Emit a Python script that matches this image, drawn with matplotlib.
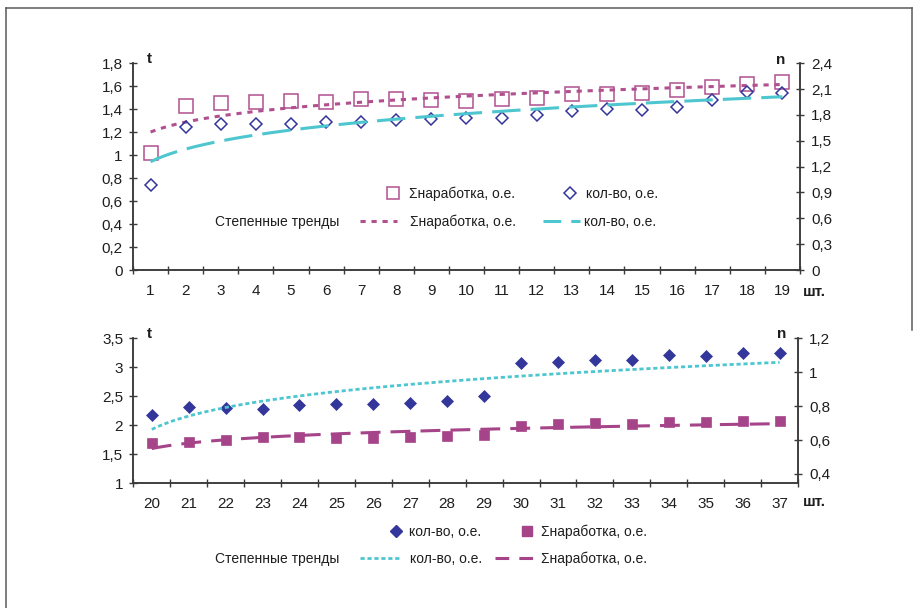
import numpy as np
import matplotlib
matplotlib.use("Agg")
import matplotlib.pyplot as plt
from matplotlib.lines import Line2D

plt.rcParams['font.family'] = ['Liberation Sans', 'DejaVu Sans']

W, H = 916, 608

# ---------------- data ----------------
top_labels = [str(i) for i in range(1, 20)]
top_work = [1.02, 1.43, 1.45, 1.46, 1.47, 1.46, 1.49, 1.49, 1.48, 1.47,
            1.49, 1.50, 1.53, 1.53, 1.54, 1.57, 1.59, 1.62, 1.64]        # left axis, t
top_count = [0.99, 1.66, 1.69, 1.70, 1.69, 1.72, 1.72, 1.74, 1.75, 1.76,
             1.77, 1.80, 1.85, 1.87, 1.86, 1.89, 1.97, 2.07, 2.06]       # right axis, n

bot_labels = [str(i) for i in range(20, 38)]
bot_work = [1.69, 1.72, 1.74, 1.79, 1.79, 1.78, 1.78, 1.79, 1.82, 1.83,
            1.99, 2.03, 2.04, 2.03, 2.06, 2.06, 2.07, 2.07]              # left axis, t
bot_count = [0.748, 0.795, 0.791, 0.786, 0.807, 0.814, 0.814, 0.817, 0.830, 0.858,
             1.053, 1.058, 1.074, 1.070, 1.101, 1.096, 1.115, 1.115]     # right axis, n

top_left_ticks = [0, 0.2, 0.4, 0.6, 0.8, 1.0, 1.2, 1.4, 1.6, 1.8]
top_right_ticks = [0, 0.3, 0.6, 0.9, 1.2, 1.5, 1.8, 2.1, 2.4]
bot_left_ticks = [1, 1.5, 2, 2.5, 3, 3.5]
bot_right_ticks = [0.4, 0.6, 0.8, 1.0, 1.2]

lbl_work = "Σнаработка, о.е."
lbl_count = "кол-во, о.е."
lbl_trend = "Степенные тренды"

# ---------------- style ----------------
MAG = "#B0508E"
MAG_F = "#A6448A"
BLUE = "#33369A"
CYAN = "#4EC6CF"
AX = "#3A3A3A"
TXT = "#1E1E1E"
FS = 11
LFS = 10


def fmt(v):
    s = f"{round(v, 2):g}"
    return s.replace(".", ",")


def power_fit(y):
    x = np.arange(1, len(y) + 1)
    b, lna = np.polyfit(np.log(x), np.log(np.asarray(y, float)), 1)
    xs = np.linspace(1, len(y), 200)
    return xs - 1, np.exp(lna) * xs ** b


def style_axes(ax, ax2, labels, lt, rt, lylim, rylim, xpad):
    n = len(labels)
    ax.set_xlim(-0.5, n - 0.5)
    ax.set_xticks(np.arange(n + 1) - 0.5)
    ax.set_xticklabels([])
    ax.set_xticks(np.arange(n), minor=True)
    ax.set_xticklabels(labels, minor=True)
    ax.tick_params(axis='x', which='major', direction='inout', length=6, width=1.0, color=AX)
    ax.tick_params(axis='x', which='minor', length=0, pad=xpad, labelsize=FS, labelcolor=TXT)
    ax.set_ylim(*lylim)
    ax.set_yticks(lt)
    ax.set_yticklabels([fmt(v) for v in lt])
    ax.tick_params(axis='y', direction='inout', length=6, width=1.0, color=AX,
                   pad=4.3, labelsize=FS, labelcolor=TXT)
    ax2.set_ylim(*rylim)
    ax2.set_yticks(rt)
    ax2.set_yticklabels([fmt(v) for v in rt])
    ax2.tick_params(axis='y', direction='inout', length=6, width=1.0, color=AX,
                    pad=5.0, labelsize=FS, labelcolor=TXT)
    for a in (ax, ax2):
        a.spines['top'].set_visible(False)
        for s in ('left', 'right', 'bottom'):
            a.spines[s].set_color(AX)
            a.spines[s].set_linewidth(1.1)
        a.patch.set_visible(False)


fig = plt.figure(figsize=(W / 100, H / 100), dpi=100)
fig.patch.set_facecolor("white")

# ---------------- top chart ----------------
ax = fig.add_axes([133 / W, 1 - 270 / H, 667 / W, 206.7 / H])
ax2 = ax.twinx()
xt = np.arange(len(top_labels))
ax.plot(xt, top_work, linestyle='none', marker='s', markersize=10.5,
        markerfacecolor='none', markeredgecolor=MAG, markeredgewidth=1.1, zorder=3)
tx, ty = power_fit(top_work)
ax.plot(tx, ty, color=MAG, lw=2.2, dashes=(1.7, 1.9), zorder=4)
ax2.plot(xt, top_count, linestyle='none', marker='D', markersize=6.2,
         markerfacecolor='none', markeredgecolor=BLUE, markeredgewidth=1.1, zorder=3)
tx, ty = power_fit(top_count)
ax2.plot(tx, ty, color=CYAN, lw=2.2, dashes=(9.3, 3.3), zorder=4)
style_axes(ax, ax2, top_labels, top_left_ticks, top_right_ticks, (0, 1.8), (0, 2.4), 10.2)

# ---------------- bottom chart ----------------
bx = fig.add_axes([133.3 / W, 1 - 483.3 / H, 664.7 / W, 145 / H])
bx2 = bx.twinx()
xb = np.arange(len(bot_labels))
bx.plot(xb, bot_work, linestyle='none', marker='s', markersize=6.6,
        markerfacecolor=MAG_F, markeredgecolor=MAG_F, markeredgewidth=0.5, zorder=3)
tx, ty = power_fit(bot_work)
bx.plot(tx, ty, color=MAG_F, lw=2.2, dashes=(6.5, 3.3), zorder=4)
bx2.plot(xb, bot_count, linestyle='none', marker='D', markersize=6.6,
         markerfacecolor=BLUE, markeredgecolor=BLUE, markeredgewidth=0.5, zorder=3)
tx, ty = power_fit(bot_count)
bx2.plot(tx, ty, color=CYAN, lw=2.0, dashes=(1.5, 1.0), zorder=4)
style_axes(bx, bx2, bot_labels, bot_left_ticks, bot_right_ticks, (1, 3.5), (0.345, 1.2), 9.8)

# ---------------- axis titles ----------------
for (x, y, s) in [(149, 59, "t"), (781, 60, "n"), (814, 291.5, "шт."),
                  (149, 334, "t"), (782, 334, "n"), (814, 502.5, "шт.")]:
    fig.text(x / W, 1 - y / H, s, ha='center', va='center', fontsize=FS,
             fontweight='bold', color=TXT)


# ---------------- legends ----------------
def key(handle, label, x_px, y_px, hl, pad):
    fig.legend([handle], [label], loc='center left',
               bbox_to_anchor=(x_px / W, 1 - y_px / H), frameon=False,
               borderpad=0, borderaxespad=0, handlelength=hl, handletextpad=pad,
               fontsize=LFS, labelcolor=TXT)


h_sq_o = Line2D([], [], linestyle='none', marker='s', markersize=8,
                markerfacecolor='none', markeredgecolor=MAG, markeredgewidth=1.1)
h_di_o = Line2D([], [], linestyle='none', marker='D', markersize=6.2,
                markerfacecolor='none', markeredgecolor=BLUE, markeredgewidth=1.1)
h_tr_m = Line2D([], [], color=MAG, lw=2.2, dashes=(1.7, 1.9))
h_tr_c = Line2D([], [], color=CYAN, lw=2.2, dashes=(5.8, 3.3))
key(h_sq_o, lbl_work, 387.4, 194, 0.8, 0.74)
key(h_di_o, lbl_count, 564.4, 194, 0.8, 0.74)
fig.text(215 / W, 1 - 222 / H, lbl_trend, ha='left', va='center', fontsize=LFS, color=TXT)
key(h_tr_m, lbl_work, 360, 222, 2.66, 0.94)
key(h_tr_c, lbl_count, 543, 222, 2.66, 0.29)

h_di_f = Line2D([], [], linestyle='none', marker='D', markersize=6.6,
                markerfacecolor=BLUE, markeredgecolor=BLUE)
h_sq_f = Line2D([], [], linestyle='none', marker='s', markersize=6.6,
                markerfacecolor=MAG_F, markeredgecolor=MAG_F)
h_tr_c2 = Line2D([], [], color=CYAN, lw=2.0, dashes=(1.5, 1.0))
h_tr_m2 = Line2D([], [], color=MAG_F, lw=2.2, dashes=(4.5, 3.3))
key(h_di_f, lbl_count, 390.4, 532, 0.8, 0.53)
key(h_sq_f, lbl_work, 521.4, 532, 0.8, 0.6)
fig.text(215 / W, 1 - 559 / H, lbl_trend, ha='left', va='center', fontsize=LFS, color=TXT)
key(h_tr_c2, lbl_count, 360, 559, 2.88, 0.72)
key(h_tr_m2, lbl_work, 495, 559, 3.0, 0.29)

# ---------------- outer frame ----------------
for xs, ys in [([6, 6], [8, H]), ([6, 912], [8, 8]), ([912, 912], [8, 330])]:
    fig.add_artist(Line2D([x / W for x in xs], [1 - y / H for y in ys],
                          transform=fig.transFigure, color="#5A5A5A", lw=1.1))

fig.savefig("out.png", dpi=100, facecolor="white")
